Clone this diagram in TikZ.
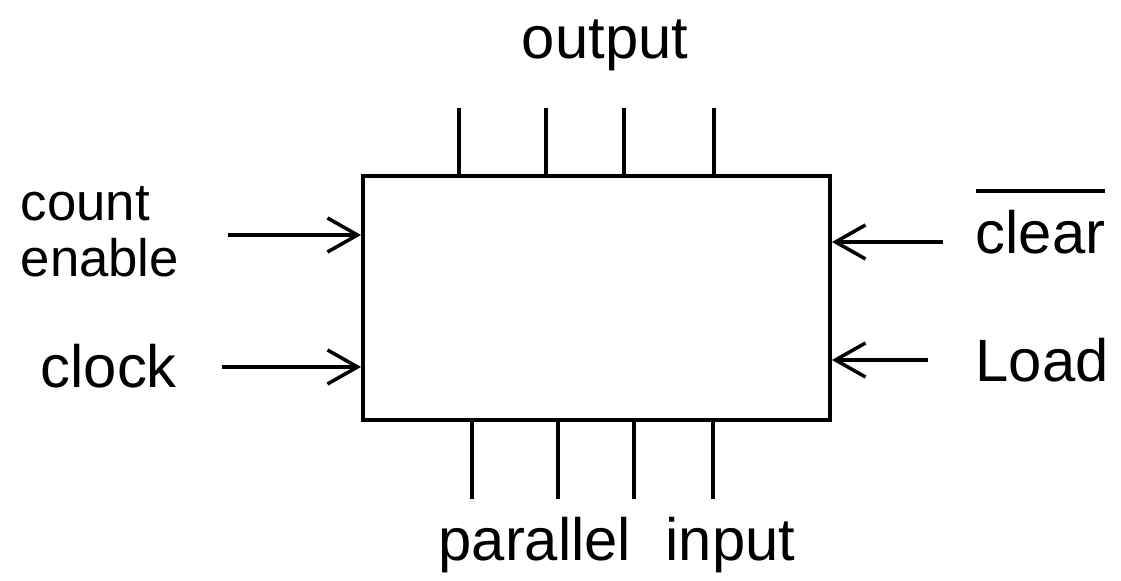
\documentclass[tikz,border=0pt]{standalone}
\usepackage{fontspec}
\setmainfont{Liberation Sans}
\usepackage{tikz}
\usetikzlibrary{arrows.meta,positioning}
\newcommand{\barred}[1]{{\setbox0\hbox{#1}\rlap{\rule[\dimexpr\ht0+5pt\relax]{\wd0}{1.1pt}}\box0}}

\begin{document}
\begin{tikzpicture}[
  font=\fontsize{17}{19}\selectfont,
  box/.style={draw,line width=1.1pt,minimum width=4.67cm,minimum height=2.44cm,inner sep=0pt},
  pin/.style={line width=1pt},
  a/.style={-{Straight Barb[length=3mm,width=3.4mm,line width=1pt]},line width=1pt},
  lbl/.style={inner sep=0pt,align=left}]
\useasboundingbox (0,0) rectangle (11.21,5.81);

% ------------------------------- counter ---------------------------------
\node[box] (ctr) at (5.965,2.83) {};
\foreach \dx in {0.98,1.85,2.63,3.53}
  \draw[pin] ([xshift=\dx cm]ctr.north west) -- ++(0,0.66);
\foreach \dx in {1.11,1.97,2.73,3.52}
  \draw[pin] ([xshift=\dx cm]ctr.south west) -- ++(0,-0.77);
\node[lbl] (out) at (6.05,5.36) {output};
\node[lbl] (pin) at (6.17,0.36) {parallel\hspace{0.3em} input};

% ------------------------------- inputs ----------------------------------
\node[lbl,anchor=west,font=\fontsize{15}{17}\selectfont] (cen) at (0.20,3.49) {count\\[-1pt]enable};
\node[lbl,anchor=west] (clk) at (0.40,2.15) {clock};
\node[lbl,anchor=south west] (clr) at (9.75,3.26) {\barred{clear}};
\node[lbl,anchor=west] (ld)  at (9.75,2.21) {Load};
\coordinate (cenin) at (2.28,3.46);
\coordinate (clkin) at (2.22,2.14);
\coordinate (clrin) at (9.43,3.39);
\coordinate (ldin)  at (9.28,2.21);
\draw[a] (cenin) -- (cenin -| ctr.west);
\draw[a] (clkin) -- (clkin -| ctr.west);
\draw[a] (clrin) -- (clrin -| ctr.east);
\draw[a] (ldin) -- (ldin -| ctr.east);
\end{tikzpicture}
\end{document}
